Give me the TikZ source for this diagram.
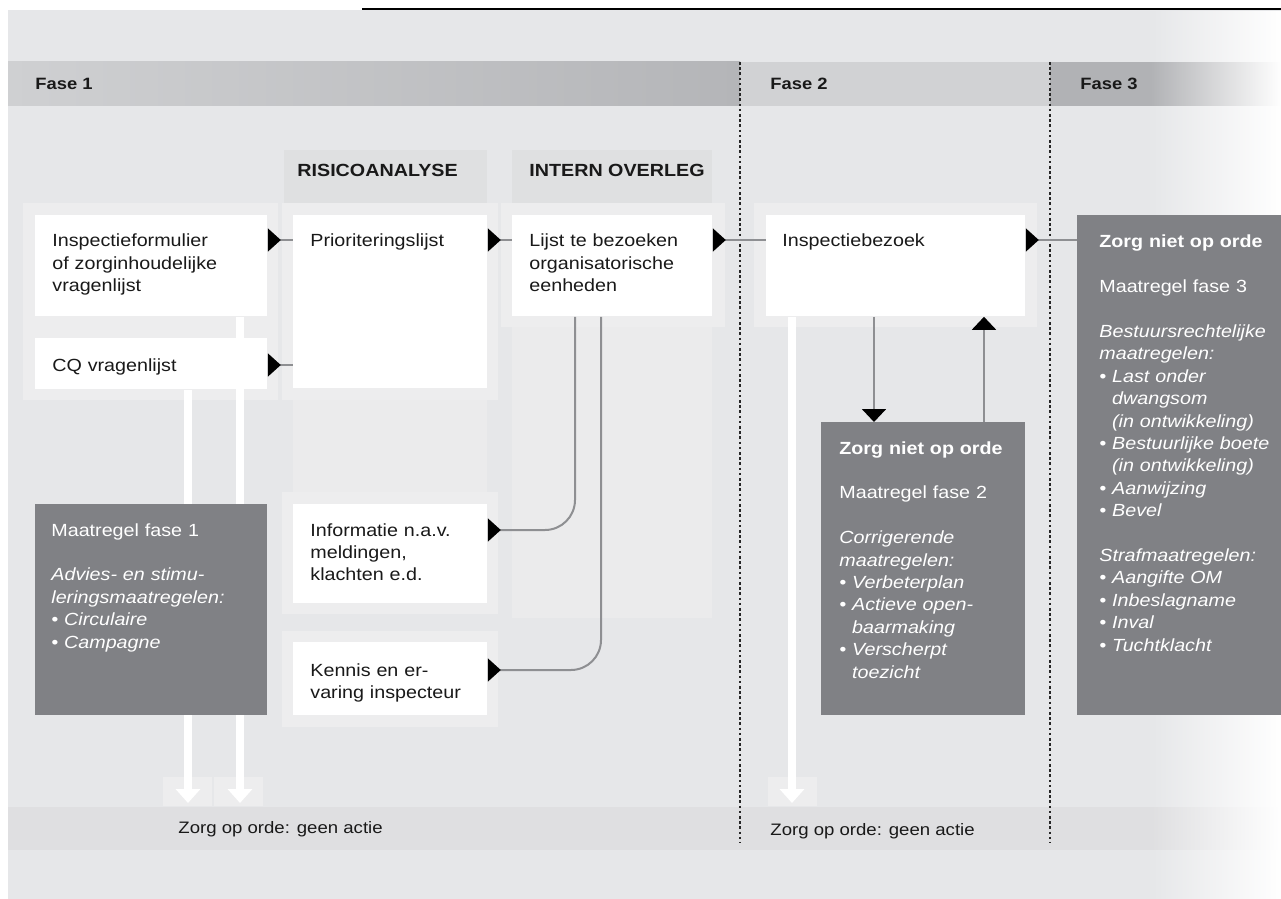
\documentclass[tikz,border=0pt]{standalone}
\usepackage{fontspec}
\setmainfont{Liberation Sans}[FakeStretch=1.12]
\usepackage{tikz}
\usetikzlibrary{arrows.meta,fadings}

\definecolor{panel}{HTML}{E6E7E9}
\definecolor{bandleft}{HTML}{CFD0D2}
\definecolor{bandright}{HTML}{B4B5B8}
\definecolor{bandmid}{HTML}{D1D2D4}
\definecolor{bandend}{HTML}{B1B2B5}
\definecolor{footband}{HTML}{DFDFE1}
\definecolor{colhead}{HTML}{DFE0E1}
\definecolor{colbody}{HTML}{EBEBEC}
\definecolor{tray}{HTML}{EDEDEE}
\definecolor{measure}{HTML}{808185}
\definecolor{linkgray}{HTML}{8E8F92}

\newcommand{\bul}{\textbullet\ }
\newcommand{\bulpad}{\phantom{\textbullet\ }}

\tikzfading[name=fade to white, left color=transparent!100, right color=transparent!0]
\pgfdeclarelayer{bg}
\pgfsetlayers{bg,main}

\begin{document}
\begin{tikzpicture}[x=0.5pt, y=-0.5pt]
        \tikzstyle{every node}=[font=\fontsize{8.8}{11.2}\selectfont, inner sep=0pt, text=black!90]
        \tikzstyle{card}=[rectangle, fill=white, anchor=north west]
        \tikzstyle{measurecard}=[rectangle, fill=measure, anchor=north west]
        \tikzstyle{cardtext}=[anchor=base west, align=left, text width=160pt]
        \tikzstyle{heading}=[anchor=west, font=\fontsize{8.2}{10}\selectfont\bfseries]
        \tikzstyle{colheading}=[anchor=west, font=\fontsize{8.8}{10}\selectfont\bfseries]
        \tikzstyle{link}=[draw=linkgray, line width=1pt]
        \tikzstyle{port}=[link, arrows={Triangle[reversed, length=6.5pt, width=11.5pt, color=black]-}]
        \tikzstyle{drop}=[link, arrows={-Triangle[length=6.5pt, width=12pt, color=black]}]
        \tikzstyle{okflow}=[draw=white, line width=4.2pt, arrows={-Triangle[length=7pt, width=12pt]}]
        \tikzstyle{divider}=[draw=black!85, line width=0.6pt, dash pattern=on 1.3pt off 1.3pt]

        \useasboundingbox (0,0) rectangle (1281,899);

        % Background
        \begin{pgfonlayer}{bg}
        \fill[panel] (8,10) rectangle (1281,899);
        \draw[line width=1pt] (362,9) -- (1281,9);
        \shade[left color=bandleft, right color=bandright] (8,62) rectangle (740,106);
        \fill[bandmid] (740,62) rectangle (1050,106);
        \fill[bandend] (1050,62) rectangle (1281,106);
        \fill[footband] (8,807) rectangle (1281,850);

        % Columns and trays
        \fill[colhead] (284,150) rectangle (487,203);
        \fill[colhead] (512,150) rectangle (712,203);
        \fill[colbody] (293,203) rectangle (487,492);
        \fill[colbody] (512,203) rectangle (712,618);
        \fill[tray] (23,203) rectangle (278,400);
        \fill[tray] (282,203) rectangle (498,400);
        \fill[tray] (501,203) rectangle (725,327);
        \fill[tray] (754,203) rectangle (1037,327);
        \fill[tray] (282,492) rectangle (498,614);
        \fill[tray] (282,631) rectangle (498,727);
        \fill[tray] (163,777) rectangle (212,806);
        \fill[tray] (214,777) rectangle (263,806);
        \fill[tray] (768,777) rectangle (817,806);

        \fill[white, path fading=fade to white] (1150,10) rectangle (1281,899);

        \draw[divider] (740,62) -- (740,843);
        \draw[divider] (1050,62) -- (1050,843);
        \end{pgfonlayer}

        % Headings
        \node[heading] (fase1) at (35,84) {Fase 1};
        \node[heading] (fase2) at (770,84) {Fase 2};
        \node[heading] (fase3) at (1080,84) {Fase 3};
        \node[colheading] (risico) at (297,170) {RISICOANALYSE};
        \node[colheading] (overleg) at (529,170) {INTERN OVERLEG};
        \node[anchor=base west, font=\fontsize{8.3}{10}\selectfont] (okfase1) at (178,833) {Zorg op orde: geen actie};
        \node[anchor=base west, font=\fontsize{8.3}{10}\selectfont] (okfase2) at (770,835) {Zorg op orde: geen actie};

        % Nodes
        \node[card, minimum width=116pt, minimum height=50.5pt] (form) at (35,215) {};
        \node[card, minimum width=116pt, minimum height=25.5pt] (cq) at (35,338) {};
        \node[card, minimum width=97pt, minimum height=86.5pt] (prio) at (293,215) {};
        \node[card, minimum width=100pt, minimum height=50.5pt] (lijst) at (512,215) {};
        \node[card, minimum width=129.5pt, minimum height=50.5pt] (bezoek) at (766,215) {};
        \node[card, minimum width=97pt, minimum height=49.5pt] (info) at (293,504) {};
        \node[card, minimum width=97pt, minimum height=36.5pt] (kennis) at (293,642) {};
        \node[measurecard, minimum width=116pt, minimum height=105.5pt] (maatr1) at (35,504) {};
        \node[measurecard, minimum width=102pt, minimum height=146.5pt] (maatr2) at (821,422) {};
        \node[measurecard, minimum width=102pt, minimum height=250pt] (maatr3) at (1077,215) {};

        \node[cardtext] (formtext) at ([shift={(17,32)}]form.north west) {Inspectieformulier\\of zorginhoudelijke\\vragenlijst};
        \node[cardtext] (cqtext) at ([shift={(17,33)}]cq.north west) {CQ vragenlijst};
        \node[cardtext] (priotext) at ([shift={(17,32)}]prio.north west) {Prioriteringslijst};
        \node[cardtext] (lijsttext) at ([shift={(17,32)}]lijst.north west) {Lijst te bezoeken\\organisatorische\\eenheden};
        \node[cardtext] (bezoektext) at ([shift={(16,32)}]bezoek.north west) {Inspectiebezoek};
        \node[cardtext] (infotext) at ([shift={(17,32)}]info.north west) {Informatie n.a.v.\\meldingen,\\klachten e.d.};
        \node[cardtext] (kennistext) at ([shift={(17,34)}]kennis.north west) {Kennis en er-\\varing inspecteur};
        \node[cardtext, text=white] (maatr1text) at ([shift={(16,32)}]maatr1.north west) {Maatregel fase 1\\[11.2pt]
            {\itshape Advies- en stimu-\\leringsmaatregelen:\\\bul Circulaire\\\bul Campagne}};
        \node[cardtext, text=white] (maatr2text) at ([shift={(18,32)}]maatr2.north west) {\textbf{Zorg niet op orde}\\[11.2pt]
            Maatregel fase 2\\[11.2pt]
            {\itshape Corrigerende\\maatregelen:\\\bul Verbeterplan\\\bul Actieve open-\\\bulpad baarmaking\\\bul Verscherpt\\\bulpad toezicht}};
        \node[cardtext, text=white] (maatr3text) at ([shift={(22,33)}]maatr3.north west) {\textbf{Zorg niet op orde}\\[11.2pt]
            Maatregel fase 3\\[11.2pt]
            {\itshape Bestuursrechtelijke\\maatregelen:\\\bul Last onder\\\bulpad dwangsom\\\bulpad (in ontwikkeling)\\\bul Bestuurlijke boete\\\bulpad (in ontwikkeling)\\\bul Aanwijzing\\\bul Bevel\\[11.2pt]
            Strafmaatregelen:\\\bul Aangifte OM\\\bul Inbeslagname\\\bul Inval\\\bul Tuchtklacht}};

        % Edges
        \coordinate (formport) at ([yshift=-12.5pt]form.north east);
        \coordinate (cqport) at ([yshift=-13.5pt]cq.north east);
        \coordinate (prioport) at ([yshift=-12.5pt]prio.north east);
        \coordinate (lijstport) at ([yshift=-12.5pt]lijst.north east);
        \coordinate (bezoekport) at ([yshift=-12.5pt]bezoek.north east);
        \coordinate (infoport) at ([yshift=-13pt]info.north east);
        \coordinate (kennisport) at ([yshift=-14pt]kennis.north east);
        \coordinate (downtop) at ([xshift=54pt]bezoek.south west);
        \coordinate (uptop) at ([xshift=81.5pt]maatr2.north west);
        \coordinate (okA) at (240,803);
        \coordinate (okB) at (188,803);
        \coordinate (okC) at (792,803);

        \begin{pgfonlayer}{bg}
        \draw[okflow] (form.south -| okA) -- (okA);
        \draw[okflow] (cq.south -| okB) -- (okB);
        \draw[okflow] (bezoek.south -| okC) -- (okC);
        \end{pgfonlayer}

        \draw[port] (formport) -- (formport -| prio.west);
        \draw[port] (cqport) -- (cqport -| prio.west);
        \draw[port] (prioport) -- (prioport -| lijst.west);
        \draw[port] (lijstport) -- (lijstport -| bezoek.west);
        \draw[port] (bezoekport) -- (bezoekport -| maatr3.west);
        \draw[port, rounded corners=15pt] (infoport) -| ([xshift=31.5pt]lijst.south west);
        \draw[port, rounded corners=15pt] (kennisport) -| ([xshift=44.5pt]lijst.south west);
        \draw[drop] (downtop) -- (downtop |- maatr2.north);
        \draw[drop] (uptop) -- (uptop |- bezoek.south);

    \end{tikzpicture}
\end{document}
